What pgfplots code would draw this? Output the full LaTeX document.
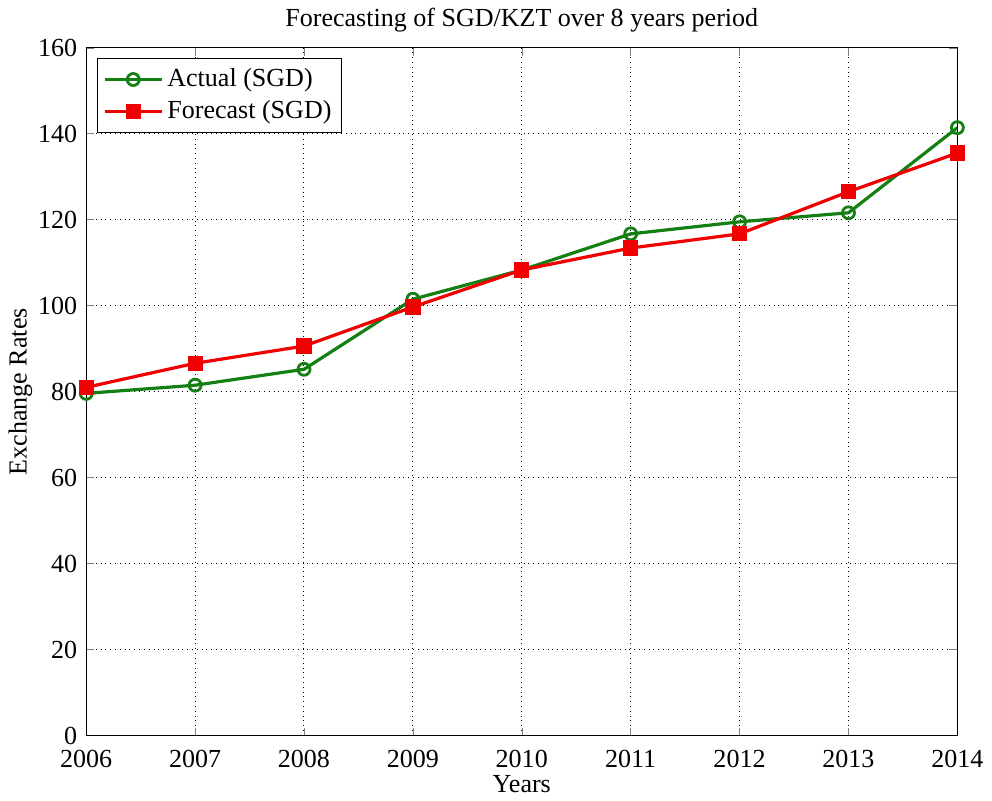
\documentclass[border=0pt]{standalone}
\usepackage{fontspec}
\setmainfont{Liberation Serif}
\usepackage{pgfplots}
\pgfplotsset{compat=1.18}
\definecolor{mgreen}{RGB}{20,128,20}
\definecolor{mred}{RGB}{240,0,0}
\begin{document}
\fontsize{13}{15}\selectfont
\begin{tikzpicture}
\begin{axis}[
  scale only axis,
  width=435pt, height=343.5pt,
  xmin=2006, xmax=2014, ymin=0, ymax=160,
  xtick={2006,...,2014},
  ytick={0,20,...,160},
  /pgf/number format/assume math mode=true,
  xticklabel style={/pgf/number format/1000 sep={}, yshift=-2.5pt},
  tick align=inside, tick pos=both,
  major tick length=4pt,
  grid=major,
  major grid style={black, dotted, line width=0.5pt},
  axis line style={line width=0.6pt},
  title={Forecasting of SGD/KZT over 8 years period},
  title style={yshift=-3pt},
  xlabel={Years}, ylabel={Exchange Rates},
  xlabel style={yshift=5pt},
  ylabel style={yshift=-6pt},
  tick label style={font=\fontsize{13}{15}\selectfont},
  label style={font=\fontsize{13}{15}\selectfont},
  legend style={at={(0.012,0.985)}, anchor=north west, draw=black, line width=0.5pt,
    font=\fontsize{13}{15}\selectfont, row sep=1pt, inner sep=3pt},
  legend cell align=left,
  legend image code/.code={
    \draw[#1] (0cm,0cm) -- (1.0cm,0cm);
    \draw[#1, only marks] plot coordinates {(0.5cm,0cm)};
  },
]
\addplot[mgreen, line width=1.6pt, mark=o, mark size=3pt, mark options={line width=1.4pt}]
coordinates {(2006,79.6) (2007,81.5) (2008,85.2) (2009,101.5) (2010,108.3) (2011,116.7) (2012,119.5) (2013,121.6) (2014,141.4)};
\addlegendentry{Actual (SGD)}
\addplot[mred, line width=1.6pt, mark=square*, mark size=3.0pt]
coordinates {(2006,81.0) (2007,86.6) (2008,90.6) (2009,99.7) (2010,108.3) (2011,113.4) (2012,116.7) (2013,126.5) (2014,135.5)};
\addlegendentry{Forecast (SGD)}
\end{axis}
\end{tikzpicture}
\end{document}
